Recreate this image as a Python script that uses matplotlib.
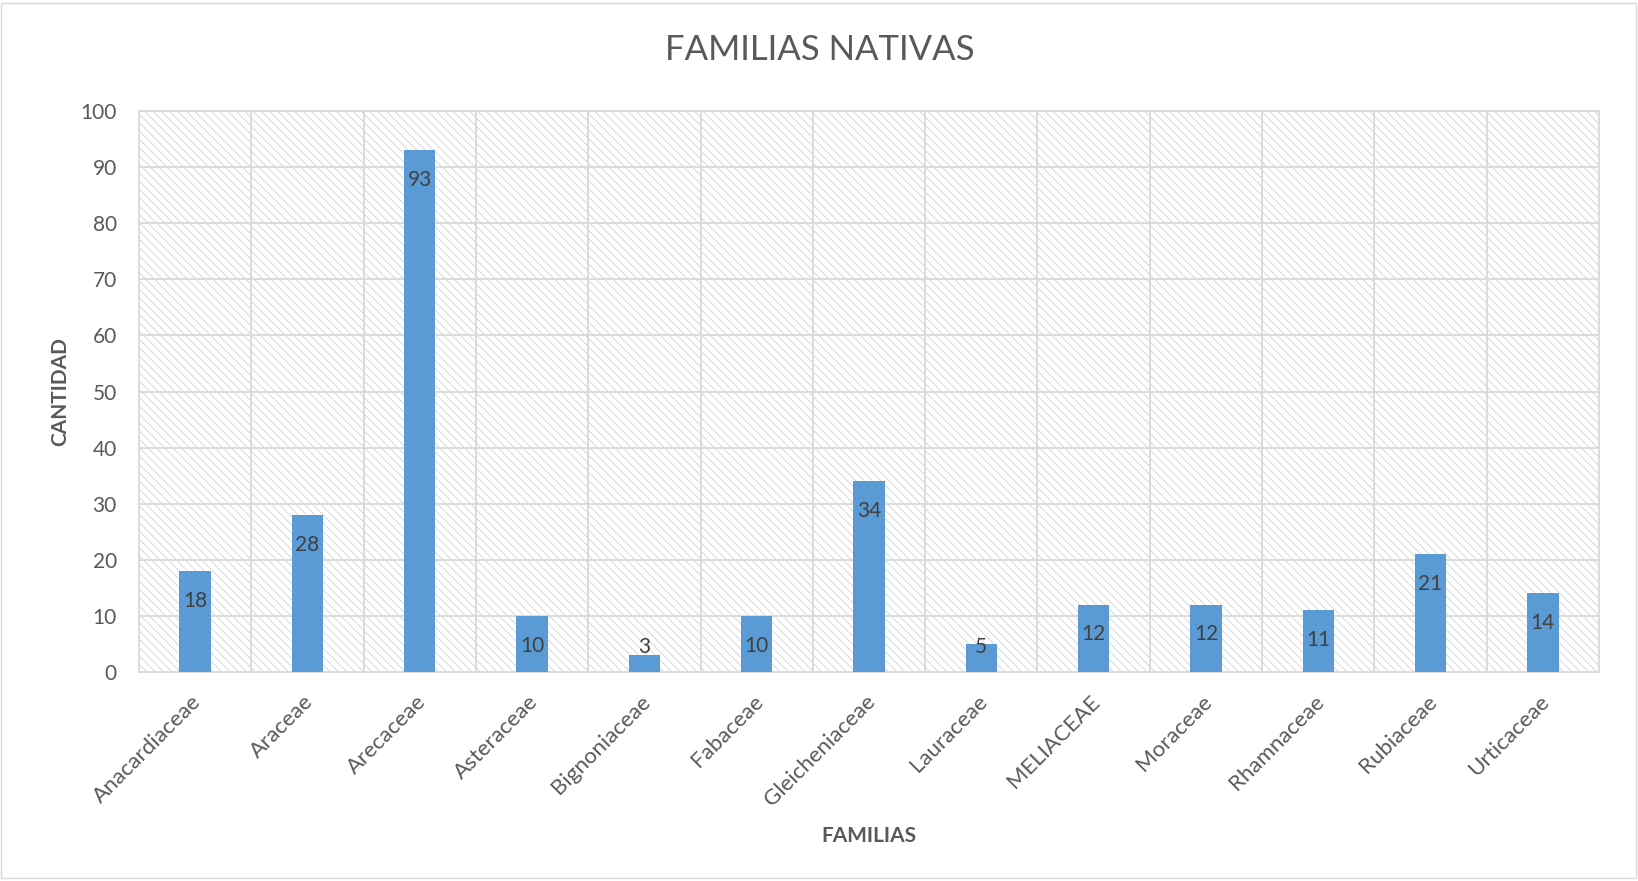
import matplotlib
matplotlib.use("Agg")
import matplotlib.pyplot as plt
from matplotlib.patches import Rectangle
import matplotlib.transforms as mtransforms
import numpy as np

categories = ["Anacardiaceae", "Araceae", "Arecaceae", "Asteraceae", "Bignoniaceae",
              "Fabaceae", "Gleicheniaceae", "Lauraceae", "MELIACEAE", "Moraceae",
              "Rhamnaceae", "Rubiaceae", "Urticaceae"]
values = [18, 28, 93, 10, 3, 10, 34, 5, 12, 12, 11, 21, 14]
yticks = [0, 10, 20, 30, 40, 50, 60, 70, 80, 90, 100]

plt.rcParams['font.family'] = ['Lato', 'DejaVu Sans']
plt.rcParams['hatch.linewidth'] = 0.5
plt.rcParams['hatch.color'] = '#c8c8c8'

W, H = 1638, 881
fig = plt.figure(figsize=(W / 100, H / 100), dpi=100)
L, R, T, B = 139, 1599, 111, 672
ax = fig.add_axes([L / W, 1 - B / H, (R - L) / W, (B - T) / H])

n = len(categories)
x = np.arange(n)
ax.set_xlim(-0.5, n - 0.5)
ax.set_ylim(0, 100)

# hatched background
ax.add_patch(Rectangle((0, 0), 1, 1, transform=ax.transAxes, facecolor='white',
                       edgecolor='#c8c8c8', hatch='\\' * 4, linewidth=0, zorder=0))

# grid
for yv in yticks[1:]:
    ax.axhline(yv, color='#d9d9d9', linewidth=1.3, zorder=1)
for xv in np.arange(0.5, n - 0.5, 1):
    ax.axvline(xv, color='#d9d9d9', linewidth=1.3, zorder=1)

ax.bar(x, values, width=0.28, color='#5B9BD5', zorder=3)

for xi, v in zip(x, values):
    ly = max(v - 5.3, 4.47)
    ax.text(xi, ly, str(v), ha='center', va='center', fontsize=15,
            color='#404040', zorder=4)

for s in ax.spines.values():
    s.set_color('#d9d9d9')
    s.set_linewidth(1.3)

ax.set_yticks(yticks)
ax.set_yticklabels([str(t) for t in yticks], fontsize=15, color='#595959')
ax.set_xticks(x)
ax.set_xticklabels(categories, rotation=45, ha='right', rotation_mode='anchor',
                   fontsize=16, color='#595959')
ax.tick_params(axis='both', length=0)
ax.tick_params(axis='y', pad=16)
ax.tick_params(axis='x', pad=14)
shift = mtransforms.ScaledTranslation(-4 / 100, 0, fig.dpi_scale_trans)
for lbl in ax.get_xticklabels():
    lbl.set_transform(lbl.get_transform() + shift)

fig.text(820 / W, 1 - 50 / H, "FAMILIAS NATIVAS", ha='center', va='center',
         fontsize=25, color='#595959')
fig.text(60 / W, 1 - 392 / H, "CANTIDAD", ha='center', va='center', rotation=90,
         fontsize=15, fontweight='bold', color='#595959')
fig.text(869 / W, 1 - 836 / H, "FAMILIAS", ha='center', va='center',
         fontsize=15, fontweight='bold', color='#595959')

fig.add_artist(Rectangle((1 / W, 3 / H), 1 - 3 / W, 1 - 6 / H, transform=fig.transFigure,
                         facecolor='none', edgecolor='#d9d9d9', linewidth=1.0))

fig.savefig("out.png", dpi=100)
